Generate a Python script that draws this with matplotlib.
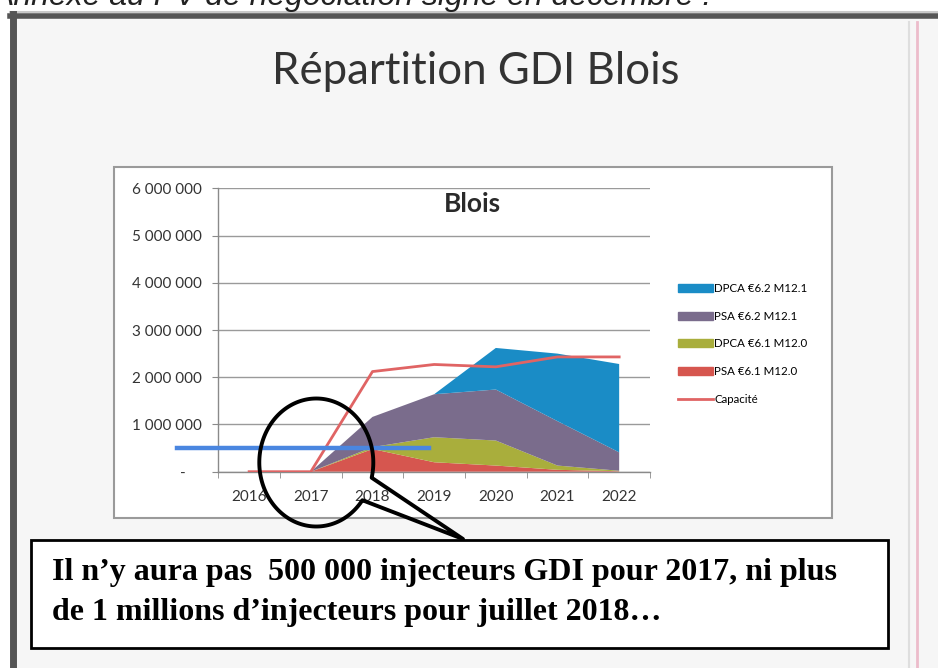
import numpy as np
import matplotlib
matplotlib.use("Agg")
import matplotlib.pyplot as plt
from matplotlib.patches import Rectangle, Polygon, Patch
from matplotlib.lines import Line2D
from matplotlib.ticker import FuncFormatter, FixedLocator

# Data (injecteurs par an)
annees = ["2016", "2017", "2018", "2019", "2020", "2021", "2022"]
psa_61 = [0, 0, 480000, 200000, 130000, 40000, 10000]
dpca_61 = [0, 0, 40000, 530000, 530000, 90000, 10000]
psa_62 = [0, 0, 640000, 910000, 1080000, 940000, 390000]
dpca_62 = [0, 0, 0, 0, 880000, 1430000, 1870000]
capacite = [0, 0, 2120000, 2270000, 2220000, 2430000, 2430000]
seuil = 500000  # trait bleu "500 000 injecteurs"

y_ticks = [0, 1000000, 2000000, 3000000, 4000000, 5000000, 6000000]

c_dpca62 = "#1a8cc6"
c_psa62 = "#7a6c8c"
c_dpca61 = "#a9ae3c"
c_psa61 = "#d6564f"
c_cap = "#e06464"

W, H = 938, 668
fig = plt.figure(figsize=(W / 100, H / 100), dpi=100)
fig.patch.set_facecolor("white")

# background layer in pixel coordinates
bg = fig.add_axes([0, 0, 1, 1], zorder=0)
bg.set_xlim(0, W)
bg.set_ylim(H, 0)
bg.axis("off")

# scanned page + frame
bg.add_patch(Rectangle((14, 17), W, H, fc="#f6f6f6", ec="none"))
bg.plot([10, W], [12, 12], color="#c8c8c8", lw=1.5)
bg.plot([10, W], [16, 16], color="#555555", lw=4)
bg.plot([13, 13], [14, H], color="#555555", lw=5)
bg.plot([909, 909], [22, H], color="#dedede", lw=1.5)
bg.plot([917, 917], [22, H], color="#ecbccb", lw=2)
bg.text(-7, 5, "Annexe au PV de négociation signé en décembre :", fontsize=23,
        style="italic", family="Liberation Sans", color="#222222", va="baseline")

# page title
bg.text(476, 84, "Répartition GDI Blois", fontsize=31.5, family="Lato",
        color="#333333", ha="center", va="baseline")

# Excel chart area
bg.add_patch(Rectangle((114, 167), 718, 351, fc="white", ec="#9a9a9a", lw=1.5))
bg.text(472, 204, "Blois", fontsize=19, family="Lato", weight="bold",
        color="#2a2a2a", ha="center", va="center")

# plot area
left, right, top, bottom = 218.3, 650.0, 188.3, 471.7
ax = fig.add_axes([left / W, 1 - bottom / H, (right - left) / W, (bottom - top) / H], zorder=1)
ax.set_facecolor("none")

x = np.arange(len(annees))
ax.stackplot(x, psa_61, dpca_61, psa_62, dpca_62,
             colors=[c_psa61, c_dpca61, c_psa62, c_dpca62], lw=0, zorder=2)
ax.plot(x, capacite, color=c_cap, lw=2, zorder=3)
ax.axhline(seuil, xmin=-0.096, xmax=0.488, color="#4a86e0", lw=3.2,
           clip_on=False, zorder=4)

ax.set_xlim(-0.5, len(annees) - 0.5)
ax.set_ylim(0, 6000000)
ax.set_yticks(y_ticks)
ax.yaxis.set_major_formatter(FuncFormatter(
    lambda v, p: "-    " if v == 0 else f"{v:,.0f}".replace(",", " ")))
ax.set_xticks(x)
ax.set_xticklabels(annees)
ax.xaxis.set_minor_locator(FixedLocator(np.arange(-0.5, len(annees), 1)))
ax.tick_params(axis="x", which="major", length=0, pad=13)
ax.tick_params(axis="x", which="minor", length=4, color="#8a8a8a", direction="out")
ax.tick_params(axis="y", length=4, color="#8a8a8a", pad=8)
for lab in ax.get_xticklabels() + ax.get_yticklabels():
    lab.set_family("Lato")
    lab.set_fontsize(11)
    lab.set_color("#333333")
ax.grid(axis="y", color="#9a9a9a", lw=1)
ax.set_axisbelow(True)
for s in ["top", "right"]:
    ax.spines[s].set_visible(False)
for s in ["left", "bottom"]:
    ax.spines[s].set_color("#8a8a8a")
    ax.spines[s].set_linewidth(1)

handles = [
    Patch(color=c_dpca62, label="DPCA €6.2 M12.1"),
    Patch(color=c_psa62, label="PSA €6.2 M12.1"),
    Patch(color=c_dpca61, label="DPCA €6.1 M12.0"),
    Patch(color=c_psa61, label="PSA €6.1 M12.0"),
    Line2D([], [], color=c_cap, lw=2, label="Capacité"),
]
fig.legend(handles=handles, loc="upper left", bbox_to_anchor=(678 / W, 1 - 283 / H),
           frameon=False, borderpad=0, borderaxespad=0, handlelength=3.0,
           handletextpad=0.15, labelspacing=1.45, prop={"family": "Lato", "size": 8.3})

# overlay: circle callout and message box
fg = fig.add_axes([0, 0, 1, 1], zorder=3)
fg.set_xlim(0, W)
fg.set_ylim(H, 0)
fg.axis("off")
fg.patch.set_alpha(0)

cx, cy, a, b = 316.3, 462.5, 57, 64
t = np.linspace(0.63, 0.24 + 2 * np.pi, 200)
pts = np.column_stack([cx + a * np.cos(t), cy + b * np.sin(t)])
pts = np.vstack([pts, [463, 539]])
fg.add_patch(Polygon(pts, closed=True, fill=False, ec="black", lw=2.8, joinstyle="round"))

fg.add_patch(Rectangle((31, 540), 857, 108, fc="white", ec="black", lw=2))
fg.text(52, 580, "Il n’y aura pas  500 000 injecteurs GDI pour 2017, ni plus",
        fontsize=23, family="Liberation Serif", weight="bold", va="baseline")
fg.text(52, 620, "de 1 millions d’injecteurs pour juillet 2018…",
        fontsize=23, family="Liberation Serif", weight="bold", va="baseline")

fig.savefig("out.png", dpi=100)
